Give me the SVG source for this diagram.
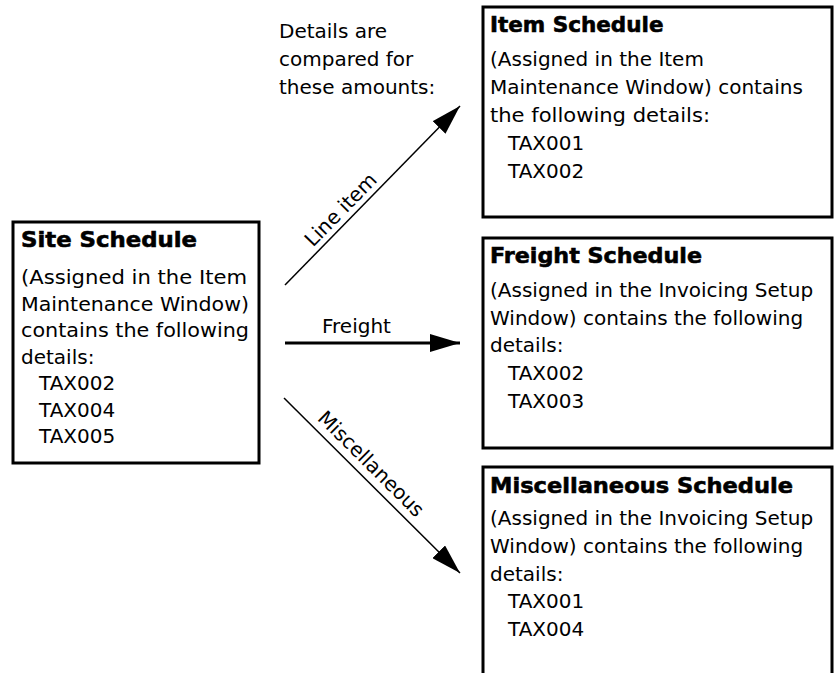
<svg xmlns="http://www.w3.org/2000/svg" width="836" height="673" viewBox="0 0 836 673">
<style>
.box{fill:#fff;stroke:#000;stroke-width:3}
.t{font-family:"DejaVu Sans","Liberation Sans",sans-serif;font-size:20px;fill:#000}
.h{font-family:"DejaVu Sans","Liberation Sans",sans-serif;font-size:21.5px;font-weight:bold;fill:#000;stroke:#000;stroke-width:0.6}
.thin{stroke:#000;stroke-width:1.5;fill:none}
.thick{stroke:#000;stroke-width:3;fill:none}
</style>
<defs>
<marker id="ah" markerUnits="userSpaceOnUse" markerWidth="30" markerHeight="18" refX="30" refY="9" orient="auto" viewBox="0 0 30 18">
<path d="M0,0 L30,9 L0,18 z" fill="#000"/>
</marker>
</defs>
<rect width="836" height="673" fill="#fff"/>
<text class="t" x="279" y="38">Details are</text>
<text class="t" x="279" y="66">compared for</text>
<text class="t" x="279" y="94">these amounts:</text>
<g id="site">
<rect class="box" x="13" y="222" width="246" height="241"/>
<text class="h" x="21" y="247" textLength="176" lengthAdjust="spacingAndGlyphs">Site Schedule</text>
<text class="t" x="21" y="284" textLength="226" lengthAdjust="spacingAndGlyphs">(Assigned in the Item</text>
<text class="t" x="21" y="310.5" textLength="228" lengthAdjust="spacingAndGlyphs">Maintenance Window)</text>
<text class="t" x="21" y="337" textLength="228" lengthAdjust="spacingAndGlyphs">contains the following</text>
<text class="t" x="21" y="363.5">details:</text>
<text class="t" x="39" y="390">TAX002</text>
<text class="t" x="39" y="416.5">TAX004</text>
<text class="t" x="39" y="443">TAX005</text>
</g>
<g id="item">
<rect class="box" x="483" y="7" width="349" height="210"/>
<text class="h" x="490" y="32">Item Schedule</text>
<text class="t" x="490" y="66">(Assigned in the Item</text>
<text class="t" x="490" y="94">Maintenance Window) contains</text>
<text class="t" x="490" y="122" textLength="220" lengthAdjust="spacingAndGlyphs">the following details:</text>
<text class="t" x="508" y="150">TAX001</text>
<text class="t" x="508" y="178">TAX002</text>
</g>
<g id="freight">
<rect class="box" x="483" y="238" width="349" height="210"/>
<text class="h" x="490" y="263" textLength="212" lengthAdjust="spacingAndGlyphs">Freight Schedule</text>
<text class="t" x="490" y="297">(Assigned in the Invoicing Setup</text>
<text class="t" x="490" y="325">Window) contains the following</text>
<text class="t" x="490" y="352">details:</text>
<text class="t" x="508" y="380">TAX002</text>
<text class="t" x="508" y="407.5">TAX003</text>
</g>
<g id="misc">
<path class="box" d="M483,676 V467 H832 V676"/>
<text class="h" x="490" y="493" textLength="303" lengthAdjust="spacingAndGlyphs">Miscellaneous Schedule</text>
<text class="t" x="490" y="525">(Assigned in the Invoicing Setup</text>
<text class="t" x="490" y="553">Window) contains the following</text>
<text class="t" x="490" y="580.5">details:</text>
<text class="t" x="508" y="608">TAX001</text>
<text class="t" x="508" y="635.5">TAX004</text>
</g>
<g id="connectors">
<line class="thin" x1="285" y1="285" x2="460" y2="106" marker-end="url(#ah)"/>
<line class="thick" x1="285" y1="343" x2="460" y2="343" marker-end="url(#ah)"/>
<line class="thin" x1="284" y1="398" x2="460" y2="573" marker-end="url(#ah)"/>
<text class="t" text-anchor="middle" transform="translate(345.5,214.5) rotate(-45.65)">Line item</text>
<text class="t" x="322" y="333">Freight</text>
<text class="t" text-anchor="middle" transform="translate(366.3,468.6) rotate(44.84)">Miscellaneous</text>
</g>
</svg>
